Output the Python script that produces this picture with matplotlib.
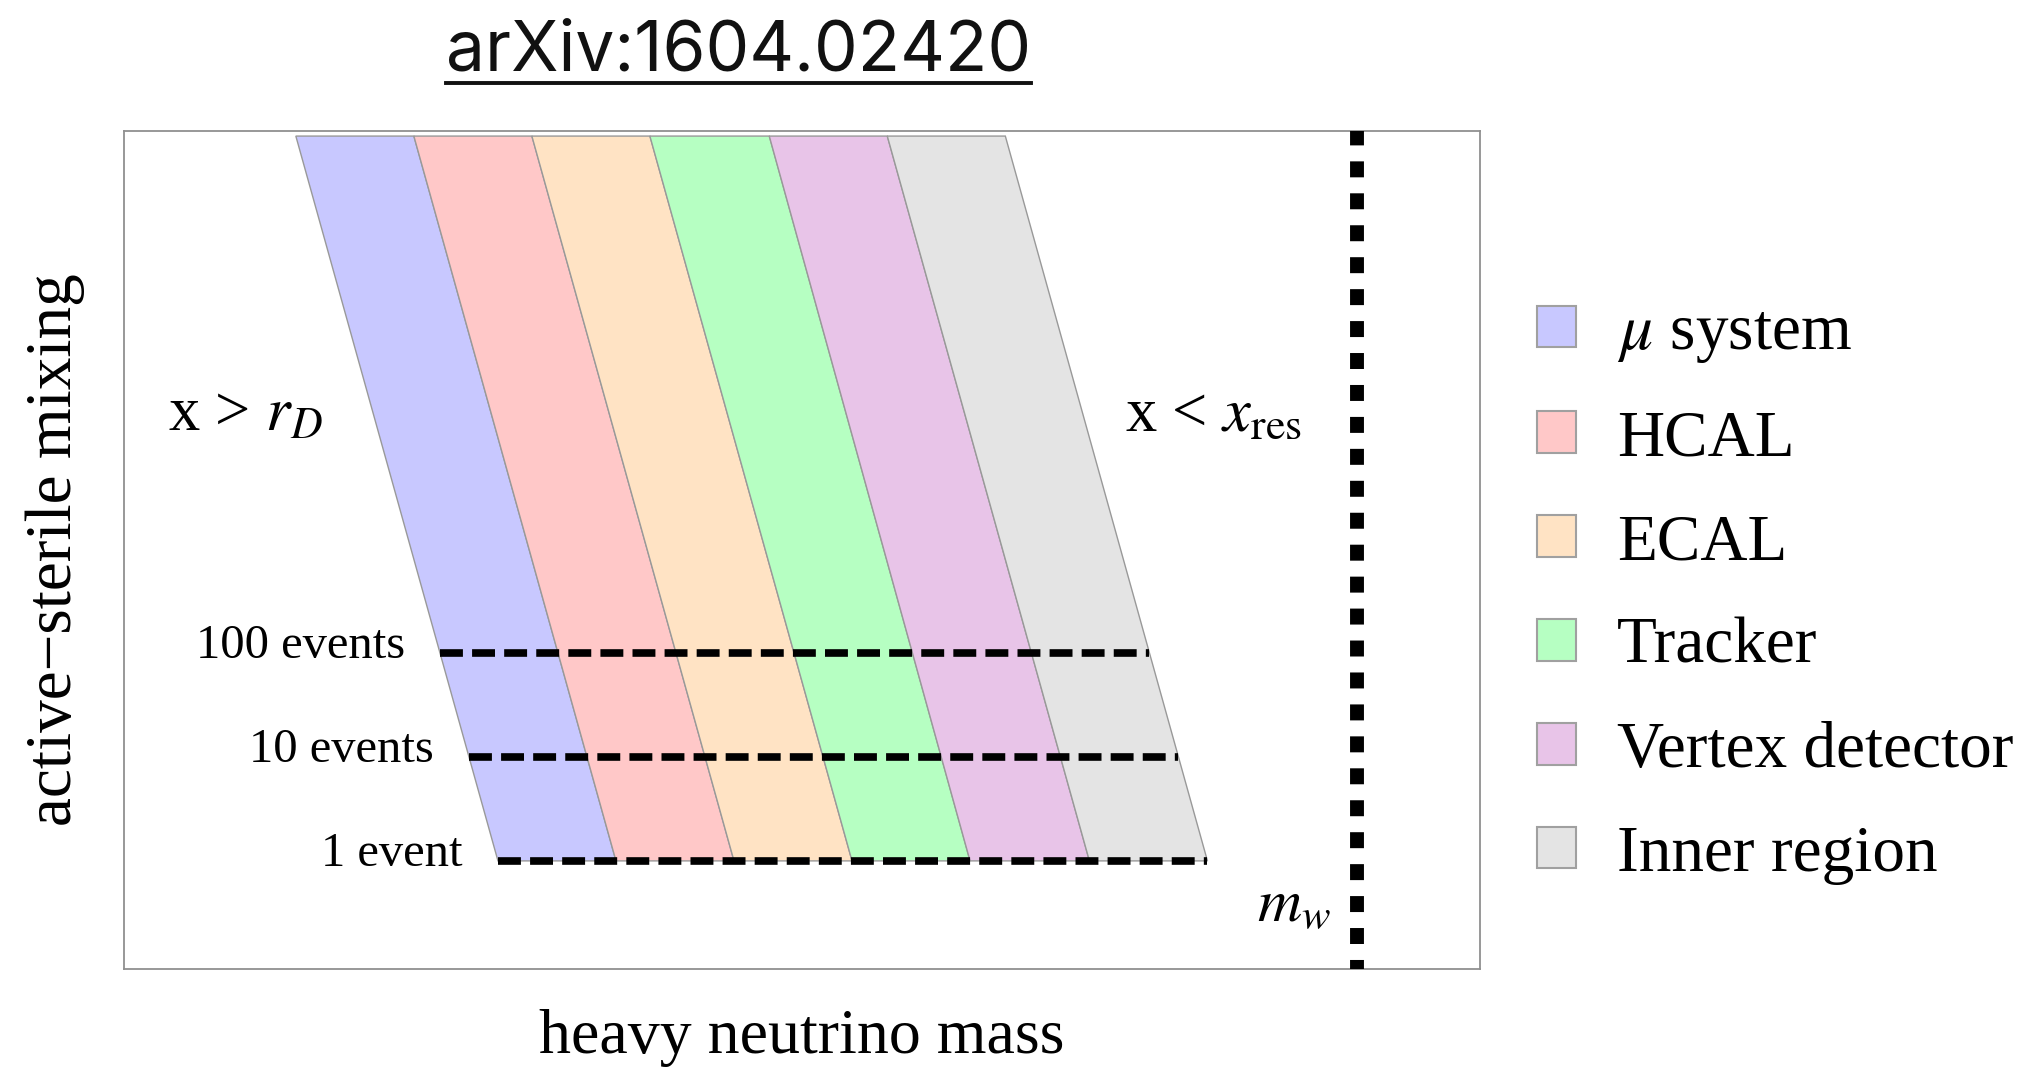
"""Schematic of displaced-vertex sensitivity regions (arXiv:1604.02420)."""

import matplotlib

matplotlib.use("Agg")
import matplotlib.pyplot as plt
import numpy as np
from matplotlib.lines import Line2D
from matplotlib.patches import Patch, Polygon

plt.rcParams["font.family"] = ["Liberation Serif", "DejaVu Serif"]
plt.rcParams["mathtext.fontset"] = "stix"

# ---------------------------------------------------------------- data
# schematic units: x = heavy neutrino mass, y = active-sterile mixing (0..100)
detectors = ["$\\mu$ system", "HCAL", "ECAL", "Tracker", "Vertex detector", "Inner region"]
colors = ["#c8c8ff", "#ffc8c8", "#ffe3c4", "#b6ffc2", "#e8c4e8", "#e4e4e4"]
edges_top_x = [12.7, 21.4, 30.1, 38.8, 47.6, 56.3, 65.0]
edges_bottom_x = [27.6, 36.3, 45.0, 53.7, 62.4, 71.2, 79.9]
band_top_y = 99.4
band_bottom_y = 12.9

event_labels = ["100 events", "10 events", "1 event"]
event_y = [37.7, 25.3, 12.9]

m_w_x = 90.9

# ---------------------------------------------------------------- figure
fig = plt.figure(figsize=(20.39, 10.68), dpi=100)
ax = fig.add_axes([0.0606, 0.0927, 0.6653, 0.7846])
ax.set_xlim(0, 100)
ax.set_ylim(0, 100)
ax.set_xticks([])
ax.set_yticks([])
for sp in ax.spines.values():
    sp.set_color("#909090")
    sp.set_linewidth(1.3)


def edge_x(i, y):
    """x position of band edge i at height y (linear between top and bottom)."""
    t = (band_top_y - y) / (band_top_y - band_bottom_y)
    return edges_top_x[i] + t * (edges_bottom_x[i] - edges_top_x[i])


for i, col in enumerate(colors):
    poly = Polygon(
        [
            (edges_top_x[i], band_top_y),
            (edges_top_x[i + 1], band_top_y),
            (edges_bottom_x[i + 1], band_bottom_y),
            (edges_bottom_x[i], band_bottom_y),
        ],
        closed=True,
        facecolor=col,
        edgecolor="#999999",
        linewidth=1.0,
        zorder=1,
    )
    ax.add_patch(poly)

# event-count contours
for lab, y in zip(event_labels, event_y):
    x0 = edge_x(0, y)
    x1 = edge_x(len(edges_top_x) - 1, y)
    ax.plot(
        [x0, x1], [y, y], color="black", lw=5.5,
        linestyle=(0, (3.0, 1.2)), dash_capstyle="butt", zorder=3,
    )
    ax.text(x0 - 2.6, y + 0.8, lab, ha="right", va="center", fontsize=35)

# W mass line
ax.axvline(
    m_w_x, color="black", lw=10, linestyle=(0.5, (1.15, 1.15)),
    dash_capstyle="butt", zorder=3,
)
ax.text(m_w_x - 1.9, 7.5, "$m_w$", ha="right", va="center", fontsize=44)

ax.text(3.3, 66.0, "x > $r_D$", ha="left", va="center", fontsize=45)
ax.text(73.8, 66.0, "x < $x_{\\rm res}$", ha="left", va="center", fontsize=45)

ax.set_xlabel("heavy neutrino mass", fontsize=46, labelpad=29)
ax.set_ylabel("active\u2212sterile mixing", fontsize=47, labelpad=28)

# legend
handles = [Patch(facecolor=c, edgecolor="#a0a0a0", linewidth=1.5) for c in colors]
fig.legend(
    handles, detectors, loc="upper left", bbox_to_anchor=(0.741, 0.74),
    frameon=False, fontsize=47, handlelength=0.6, handleheight=0.6,
    handletextpad=0.63, labelspacing=0.68, borderaxespad=0,
)

# underlined title
title = fig.text(0.362, 0.934, "arXiv:1604.02420", ha="center", va="baseline",
                 fontsize=50, family=["Inter", "DejaVu Sans"], color="#111111")
fig.canvas.draw()
bb = title.get_window_extent().transformed(fig.transFigure.inverted())
fig.add_artist(Line2D([bb.x0, bb.x1], [0.922, 0.922], color="#111111", lw=2.8,
                      transform=fig.transFigure))

fig.savefig("out.png", dpi=100)
